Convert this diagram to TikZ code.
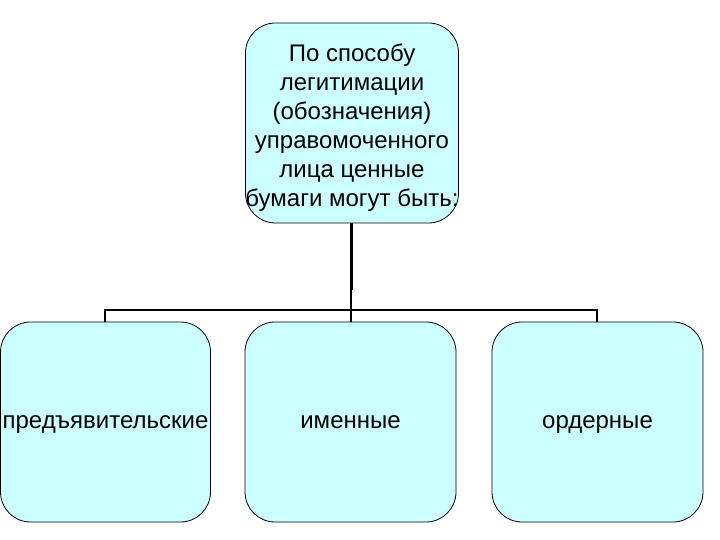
\documentclass[tikz,border=0pt]{standalone}
\usepackage{fontspec}
\setmainfont{Liberation Sans}
\usepackage{tikz}
\definecolor{paleaqua}{HTML}{CCFFFF}

\begin{document}
\begin{tikzpicture}[x=1pt,y=-1pt]
		\tikzstyle{every node}+=[inner sep=0pt]
		\tikzstyle{kind}=[draw=black, line width=0.8pt, fill=paleaqua, rounded corners=30pt,
			minimum width=211pt, minimum height=200pt, align=center,
			font=\fontsize{24}{29}\selectfont]
		\tikzstyle{leaf}=[kind, text height=17pt, text depth=5pt]
		\useasboundingbox (0,0) rectangle (720,540);
		\node[kind, minimum width=212pt] (top) at (352,123) {\rule{0pt}{27pt}По способу\\легитимации\\(обозначения)\\управомоченного\\лица ценные\\бумаги могут быть:};
		\node[leaf, minimum width=210pt] (bearer) at (105.5,422) {предъявительские};
		\node[leaf] (named) at (350.5,422) {именные};
		\node[leaf] (order) at (597.5,422) {ордерные};
		\coordinate (split) at (351,290);
		\coordinate (busL) at (105,310);
		\coordinate (busR) at (597,310);
		\draw [line width=3pt] (top.south -| split) -- (split);
		\draw [line width=2pt] (split) -- (named.north -| split);
		\draw [line width=2pt] (bearer.north -| busL) -- (busL) -- (busR) -- (order.north -| busR);
	\end{tikzpicture}
\end{document}
